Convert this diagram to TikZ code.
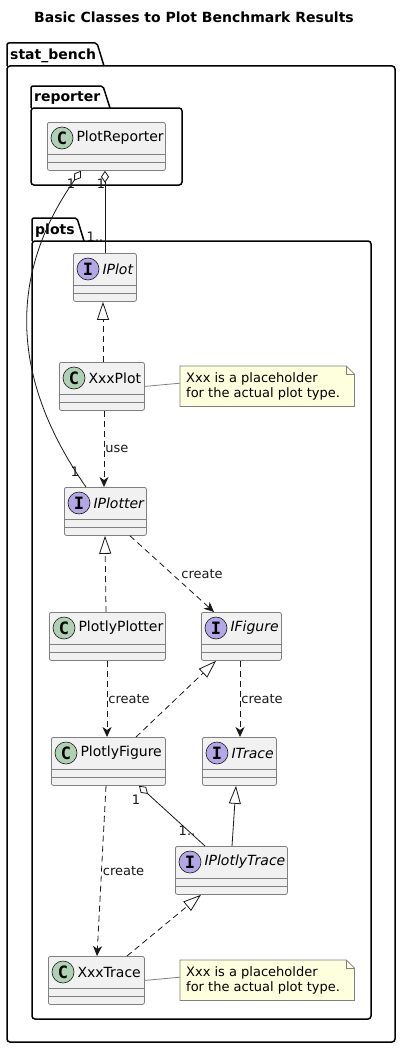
\documentclass[tikz,border=0pt]{standalone}
\usepackage{fontspec}
\setmainfont{DejaVu Sans}
\newfontfamily\spotfont{DejaVu Sans Mono}
\usetikzlibrary{arrows.meta,calc}

\definecolor{clsfill}{HTML}{F1F1F1}
\definecolor{clsline}{HTML}{181818}
\definecolor{clsborder}{HTML}{808080}
\definecolor{cspot}{HTML}{ADD1B2}
\definecolor{ispot}{HTML}{B4A7E5}
\definecolor{notefill}{HTML}{FEFFDD}

% class box: name, left, top, width, letter, spot colour, text
\newcommand{\umlclass}[7]{%
  \node [cls,minimum width=#4pt] (#1) at (#2,#3) {};
  \draw [clsborder,line width=0.8pt] ([yshift=-32pt]#1.north west) -- ([yshift=-32pt]#1.north east);
  \draw [clsborder,line width=0.8pt] ([yshift=-40pt]#1.north west) -- ([yshift=-40pt]#1.north east);
  \node [spot,fill=#6] (#1-spot) at ([xshift=15pt,yshift=-16pt]#1.north west) {#5};
  \node [clstext,anchor=west] (#1-name) at (#1-spot.east) {#7};
}

% package: name, left, tab top, tab right, body top, right, bottom, label
\newcommand{\umlpackage}[8]{%
  \draw [pkg,rounded corners=2pt] (#2,#5) -- (#2,#3) -- (#4,#3) -- ($(#4,#5)+(7,0)$);
  \draw [pkg,rounded corners=3pt] (#2,#5) rectangle (#6,#7);
  \node [pkgtext,anchor=west] (#1) at ($(#2,#3)!0.5!(#2,#5)+(2,1)$) {#8};
}

\begin{document}
\begin{tikzpicture}[x=1pt,y=-1pt,
    cls/.style={draw=clsborder,line width=0.8pt,fill=clsfill,rounded corners=2pt,
      anchor=north west,minimum height=48pt,inner sep=0pt},
    spot/.style={circle,draw=clsline,line width=0.6pt,minimum size=22pt,inner sep=0pt,
      font=\spotfont\fontsize{17}{17}\selectfont\bfseries},
    clstext/.style={font=\fontsize{14}{16}\selectfont,inner sep=3pt},
    pkg/.style={draw=black,line width=1.5pt},
    pkgtext/.style={font=\fontsize{14}{16}\selectfont\bfseries,inner sep=1pt},
    lbl/.style={font=\fontsize{13}{15}\selectfont,inner sep=1pt,text=clsline},
    conn/.style={draw=clsline,line width=0.8pt},
    dashline/.style={dash pattern=on 6pt off 4pt},
    realize/.style={conn,dashline,-{Triangle[length=18pt,width=12pt,fill=white]}},
    inherit/.style={conn,-{Triangle[length=18pt,width=12pt,fill=white]}},
    depend/.style={conn,dashline,-{Stealth[length=10pt,width=9pt,inset=3pt]}},
    aggr/.style={conn,{Diamond[length=12pt,width=8pt,fill=white]}-},
    notebox/.style={draw=clsborder,line width=0.8pt,fill=notefill},
    notetext/.style={font=\fontsize{13}{15}\selectfont,align=left,inner sep=0pt}]
  \useasboundingbox (0,0) rectangle (401,1049);

  \node [font=\fontsize{14}{16}\selectfont\bfseries] (title) at (194,17) {Basic Classes to Plot Benchmark Results};

  % packages
  \umlpackage{statbench}{7}{43}{97}{66}{395}{1042}{stat\_bench}
  \umlpackage{reporter}{31}{86}{103}{108}{182}{185}{reporter}
  \umlpackage{plots}{32}{218}{77}{241}{371}{1019}{plots}

  % classes
  \umlclass{plotreporter}{47}{122}{118}{C}{cspot}{PlotReporter}
  \umlclass{iplot}{73}{253}{63}{I}{ispot}{\itshape IPlot}
  \umlclass{xxxplot}{59}{362}{85}{C}{cspot}{XxxPlot}
  \umlclass{iplotter}{64}{487}{82}{I}{ispot}{\itshape IPlotter}
  \umlclass{plotlyplotter}{49}{612}{116}{C}{cspot}{PlotlyPlotter}
  \umlclass{ifigure}{201}{612}{80}{I}{ispot}{\itshape IFigure}
  \umlclass{plotlyfigure}{51}{737}{114}{C}{cspot}{PlotlyFigure}
  \umlclass{itrace}{202}{737}{74}{I}{ispot}{\itshape ITrace}
  \umlclass{iplotlytrace}{175}{846}{112}{I}{ispot}{\itshape IPlotlyTrace}
  \umlclass{xxxtrace}{48}{956}{96}{C}{cspot}{XxxTrace}

  % notes
  \foreach \n/\top in {note1/366,note2/960} {
    \node [anchor=north west,minimum width=174pt,minimum height=40pt,inner sep=0pt] (\n) at (180,\top) {};
    \draw [notebox] (\n.north west) -- ([xshift=-8pt]\n.north east) -- ([yshift=-8pt]\n.north east)
      -- (\n.south east) -- (\n.south west) -- cycle;
    \draw [notebox,fill=none] ([xshift=-8pt]\n.north east) -- ([xshift=-8pt,yshift=-8pt]\n.north east)
      -- ([yshift=-8pt]\n.north east);
    \node [notetext,anchor=west] (\n-text) at ([xshift=6pt]\n.west) {Xxx is a placeholder\\for the actual plot type.};
  }
  \draw [notebox,fill=none] (xxxplot.east) -- ([yshift=3pt]note1.west);
  \draw [notebox,fill=none] (xxxtrace.east) -- ([yshift=3pt]note2.west);

  % connectors
  \draw [aggr] ($(plotreporter.south west)+(34,0)$) .. controls (7,276) and (11,380) .. ($(iplotter.north west)+(22,0)$);
  \node [lbl] (m1) at (71,184) {1};
  \node [lbl] (m2) at (75,472) {1};
  \draw [aggr] ($(plotreporter.south west)+(58,0)$) -- ($(iplot.north west)+(32,0)$);
  \node [lbl] (m3) at (101,184) {1};
  \node [lbl] (m4) at (95,237) {1..};
  \draw [realize] ($(xxxplot.north west)+(44,0)$) -- ($(iplot.south west)+(30,0)$);
  \draw [depend] ($(xxxplot.south west)+(45,0)$) -- node [lbl,right] {use} ($(iplotter.north west)+(40,0)$);
  \draw [realize] ($(plotlyplotter.north west)+(57,0)$) -- ($(iplotter.south west)+(41,0)$);
  \draw [depend] ($(iplotter.south west)+(66,0)$) -- node [lbl,right,xshift=8pt] {create} ($(ifigure.north west)+(13,0)$);
  \draw [depend] ($(plotlyplotter.south west)+(58,0)$) -- node [lbl,right] {create} ($(plotlyfigure.north west)+(56,0)$);
  \draw [realize] ($(plotlyfigure.north west)+(85,0)$) -- ($(ifigure.south west)+(15,0)$);
  \draw [depend] ($(ifigure.south west)+(39,0)$) -- node [lbl,right] {create} ($(itrace.north west)+(38,0)$);
  \draw [aggr] ($(plotlyfigure.south west)+(88,0)$) -- ($(iplotlytrace.north west)+(30,0)$);
  \node [lbl] (m5) at (136,800) {1};
  \node [lbl] (m6) at (187,831) {1..};
  \draw [inherit] ($(iplotlytrace.north west)+(57,0)$) -- ($(itrace.south west)+(34,0)$);
  \draw [depend] ($(plotlyfigure.south west)+(55,0)$) -- node [lbl,right] {create} ($(xxxtrace.north west)+(49,0)$);
  \draw [realize] ($(xxxtrace.north west)+(79,0)$) -- ($(iplotlytrace.south west)+(26,0)$);
\end{tikzpicture}
\end{document}
